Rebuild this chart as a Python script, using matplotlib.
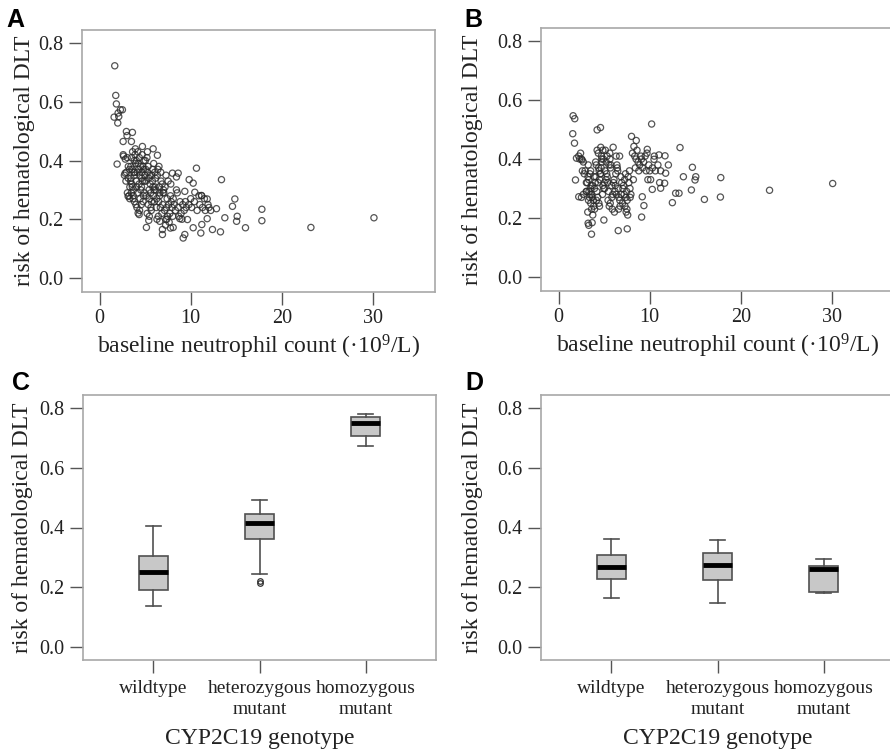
import numpy as np
import matplotlib
matplotlib.use("Agg")
import matplotlib.pyplot as plt

plt.rcParams['font.family'] = ['Liberation Serif', 'DejaVu Serif']
plt.rcParams['mathtext.default'] = 'regular'

# panel A: neutrophil count vs risk (genotype model)
x_a = [1.65, 1.76, 1.83, 1.58, 2.02, 2.27, 2.49, 1.98, 2.09, 1.91, 2.93, 3.59, 3.0, 2.57, 3.48,
       5.87, 6.34, 4.69, 10.63, 13.38, 9.83, 10.27, 7.99, 8.62, 8.43, 9.35, 10.45, 11.18, 11.81,
       14.85, 14.59, 15.11, 15.04, 17.82, 17.82, 13.75, 12.83, 12.39, 13.27, 11.22, 11.11, 10.27,
       11.81, 16.02, 23.21, 30.14, 9.17, 9.35, 6.89, 6.89, 7.77, 8.07, 5.13, 5.39, 6.6, 7.26, 9.64,
       8.8, 4.22, 4.33, 3.12, 3.3, 2.79,
       2.62, 2.81, 3.02, 2.71, 2.93, 3.12, 3.04, 3.21, 2.88, 3.14, 3.27, 2.58,
       3.42, 3.61, 3.83, 3.51, 3.72, 3.93, 3.38, 3.66, 3.79, 3.47, 3.74, 3.88, 3.44, 3.58, 3.81,
       3.53, 3.69, 3.98, 3.91, 3.31, 3.56, 3.86, 4.01,
       4.12, 4.35, 4.51, 4.73, 4.18, 4.44, 4.62, 4.85, 4.05, 4.28, 4.57, 4.69, 4.93, 4.22, 4.41,
       4.66, 4.81, 4.09, 4.33, 4.48, 4.76, 4.95, 4.38, 4.59, 4.84, 4.15, 4.91, 4.02, 4.64,
       5.08, 5.31, 5.47, 5.72, 5.19, 5.42, 5.63, 5.81, 5.12, 5.27, 5.55, 5.69, 5.93, 5.21, 5.38,
       5.61, 5.84, 5.05, 5.33, 5.52, 5.01, 5.66, 5.88, 5.24, 5.79, 5.45, 5.97,
       6.07, 6.33, 6.48, 6.74, 6.21, 6.39, 6.61, 6.83, 6.12, 6.27, 6.53, 6.71, 6.92, 6.18, 6.44,
       6.58, 6.86, 6.02, 6.51, 6.95, 6.29, 6.66, 6.04,
       7.05, 7.33, 7.52, 7.71, 7.18, 7.41, 7.63, 7.85, 7.12, 7.28, 7.47, 7.77, 7.93, 7.24, 7.58,
       7.01, 7.81, 7.37,
       8.08, 8.31, 8.52, 8.69, 8.17, 8.43, 8.61, 8.83, 8.94, 9.12, 9.28, 9.51, 8.02, 9.04, 9.41,
       9.8, 10.1, 10.4, 10.7, 11.0, 11.3, 11.6, 11.9, 12.2, 10.0, 10.9, 11.5, 12.0, 11.2]
y_a = [0.723, 0.622, 0.593, 0.548, 0.562, 0.573, 0.573, 0.528, 0.55, 0.388, 0.499, 0.496, 0.485,
       0.465, 0.465, 0.44, 0.418, 0.448, 0.374, 0.335, 0.335, 0.323, 0.357, 0.357, 0.344, 0.295,
       0.292, 0.281, 0.269, 0.269, 0.244, 0.21, 0.193, 0.234, 0.195, 0.205, 0.236, 0.165, 0.157,
       0.182, 0.153, 0.171, 0.202, 0.171, 0.172, 0.205, 0.136, 0.148, 0.148, 0.165, 0.17, 0.172,
       0.172, 0.196, 0.193, 0.199, 0.199, 0.202, 0.221, 0.216, 0.278, 0.27, 0.357,
       0.415, 0.405, 0.41, 0.35, 0.36, 0.34, 0.29, 0.28, 0.33, 0.38, 0.37, 0.42,
       0.38, 0.43, 0.35, 0.41, 0.30, 0.39, 0.33, 0.27, 0.40, 0.29, 0.36, 0.42, 0.34, 0.31, 0.26,
       0.32, 0.28, 0.25, 0.44, 0.31, 0.37, 0.36, 0.33,
       0.36, 0.41, 0.30, 0.38, 0.43, 0.27, 0.34, 0.40, 0.31, 0.37, 0.25, 0.33, 0.29, 0.39, 0.35,
       0.42, 0.28, 0.24, 0.32, 0.38, 0.26, 0.35, 0.23, 0.31, 0.37, 0.29, 0.33, 0.40, 0.36,
       0.33, 0.38, 0.27, 0.35, 0.41, 0.30, 0.24, 0.37, 0.28, 0.36, 0.32, 0.26, 0.39, 0.22, 0.34,
       0.29, 0.31, 0.37, 0.25, 0.35, 0.40, 0.23, 0.28, 0.43, 0.33, 0.21, 0.30,
       0.31, 0.35, 0.26, 0.33, 0.24, 0.37, 0.29, 0.22, 0.34, 0.27, 0.31, 0.36, 0.25, 0.30, 0.21,
       0.28, 0.32, 0.26, 0.38, 0.29, 0.20, 0.24, 0.36,
       0.29, 0.24, 0.33, 0.22, 0.31, 0.27, 0.19, 0.26, 0.23, 0.35, 0.21, 0.28, 0.24, 0.18, 0.25,
       0.30, 0.32, 0.20,
       0.27, 0.23, 0.29, 0.21, 0.25, 0.30, 0.24, 0.26, 0.22, 0.25, 0.23, 0.24, 0.21, 0.20, 0.26,
       0.25, 0.24, 0.26, 0.23, 0.25, 0.24, 0.23, 0.25, 0.23, 0.27, 0.28, 0.27, 0.24, 0.28]

# panel B: neutrophil count vs risk (full model)
x_b = [1.58, 1.76, 1.54, 1.73, 1.84, 2.2, 4.22, 4.59, 10.21, 13.33, 9.73, 8.0, 8.52, 8.26,
       14.69, 13.7, 15.06, 14.98, 17.81, 17.77, 16.01, 14.58, 12.85, 13.22, 12.49, 23.17, 30.11,
       9.18, 9.36, 9.11, 10.28, 11.2, 11.64, 11.09, 11.75, 12.05, 11.68, 11.02, 10.47, 6.54, 7.53,
       3.6, 3.67, 3.23, 3.3, 4.96, 2.57, 1.95, 2.2,
       2.3, 2.5, 2.7, 2.4, 2.6, 2.8, 2.5, 2.7, 2.9,
       3.08, 3.31, 3.52, 3.71, 3.19, 3.43, 3.62, 3.84, 3.13, 3.27, 3.48, 3.74, 3.22, 3.38, 3.61,
       3.92, 3.02, 3.81, 3.45, 3.57, 3.94, 3.24, 3.51, 3.04, 3.68, 3.33, 3.88,
       4.12, 4.35, 4.51, 4.73, 4.18, 4.44, 4.62, 4.85, 4.05, 4.28, 4.57, 4.69, 4.93, 4.22, 4.41,
       4.66, 4.81, 4.09, 4.33, 4.48, 4.76, 4.15, 4.91, 4.59, 4.02, 4.84, 4.38,
       5.08, 5.31, 5.47, 5.72, 5.19, 5.42, 5.63, 5.81, 5.12, 5.27, 5.55, 5.69, 5.93, 5.21, 5.38,
       5.61, 5.84, 5.05, 5.33, 5.52, 5.88, 5.98, 5.01, 5.66,
       6.07, 6.33, 6.48, 6.74, 6.21, 6.39, 6.61, 6.83, 6.12, 6.27, 6.53, 6.71, 6.92, 6.18, 6.44,
       6.58, 6.86, 6.31, 6.69, 6.02,
       7.05, 7.33, 7.52, 7.71, 7.18, 7.41, 7.63, 7.85, 7.12, 7.28, 7.47, 7.77, 7.24, 7.38, 7.58,
       7.83, 7.01, 7.93, 7.49,
       8.1, 8.35, 8.5, 8.72, 8.9, 9.1, 9.33, 9.5, 8.42, 8.8, 9.22, 9.6, 9.9, 8.6, 9.04, 10.0, 10.3,
       10.62, 10.9, 11.2, 9.7, 10.5, 8.2, 9.8, 10.1]
y_b = [0.547, 0.537, 0.486, 0.454, 0.329, 0.272, 0.499, 0.507, 0.519, 0.439, 0.433, 0.477, 0.463,
       0.443, 0.372, 0.34, 0.34, 0.329, 0.337, 0.271, 0.263, 0.295, 0.284, 0.284, 0.252, 0.294,
       0.317, 0.272, 0.242, 0.203, 0.297, 0.301, 0.318, 0.32, 0.352, 0.38, 0.411, 0.414, 0.399,
       0.157, 0.163, 0.145, 0.184, 0.182, 0.175, 0.193, 0.397, 0.403, 0.41,
       0.40, 0.40, 0.39, 0.42, 0.36, 0.35, 0.27, 0.28, 0.36,
       0.29, 0.33, 0.25, 0.31, 0.22, 0.35, 0.28, 0.24, 0.32, 0.26, 0.30, 0.21, 0.34, 0.27, 0.23,
       0.30, 0.29, 0.26, 0.28, 0.31, 0.23, 0.38, 0.36, 0.32, 0.27, 0.29, 0.34,
       0.38, 0.42, 0.33, 0.40, 0.29, 0.36, 0.44, 0.31, 0.39, 0.27, 0.35, 0.41, 0.30, 0.43, 0.25,
       0.37, 0.28, 0.34, 0.32, 0.24, 0.39, 0.26, 0.40, 0.35, 0.32, 0.43, 0.37,
       0.36, 0.41, 0.29, 0.38, 0.33, 0.26, 0.40, 0.31, 0.43, 0.35, 0.24, 0.37, 0.28, 0.39, 0.32,
       0.42, 0.27, 0.30, 0.34, 0.38, 0.23, 0.44, 0.32, 0.25,
       0.33, 0.28, 0.36, 0.24, 0.31, 0.38, 0.27, 0.34, 0.22, 0.35, 0.30, 0.26, 0.32, 0.29, 0.37,
       0.23, 0.28, 0.41, 0.41, 0.32,
       0.30, 0.35, 0.26, 0.32, 0.28, 0.22, 0.34, 0.27, 0.31, 0.24, 0.29, 0.36, 0.33, 0.27, 0.21,
       0.30, 0.25, 0.28, 0.23,
       0.42, 0.41, 0.40, 0.39, 0.38, 0.40, 0.39, 0.41, 0.37, 0.36, 0.37, 0.36, 0.38, 0.43, 0.41,
       0.36, 0.37, 0.36, 0.38, 0.36, 0.42, 0.41, 0.33, 0.33, 0.33]

# panels C and D: boxplot summaries per genotype
genotypes = ['wildtype', 'heterozygous\nmutant', 'homozygous\nmutant']
c_low = [0.137, 0.243, 0.675]
c_q1 = [0.190, 0.361, 0.708]
c_med = [0.250, 0.416, 0.752]
c_q3 = [0.304, 0.445, 0.772]
c_high = [0.406, 0.492, 0.780]
c_fliers = [[], [0.212, 0.221], []]

d_low = [0.164, 0.148, 0.179]
d_q1 = [0.227, 0.223, 0.185]
d_med = [0.2685, 0.274, 0.261]
d_q3 = [0.308, 0.313, 0.270]
d_high = [0.361, 0.357, 0.295]
d_fliers = [[], [], []]

W, H = 890, 755
fig = plt.figure(figsize=(8.9, 7.55), dpi=100)

def px_axes(left, top, right, bottom):
    return fig.add_axes([left / W, 1 - bottom / H, (right - left) / W, (bottom - top) / H])

frame_col = '#a8a8a8'
tick_col = '#555555'
txt_col = '#222222'

def style(ax):
    for s in ax.spines.values():
        s.set_color(frame_col)
        s.set_linewidth(1.2)
    ax.tick_params(direction='out', length=9.5, width=1.0, color=tick_col,
                   labelsize=14.5, labelcolor=txt_col)
    ax.tick_params(axis='y', pad=4)
    ax.tick_params(axis='x', pad=3)
    ax.set_yticks([0.0, 0.2, 0.4, 0.6, 0.8])
    ax.set_yticklabels(['0.0', '0.2', '0.4', '0.6', '0.8'])
    ax.set_ylabel('risk of hematological DLT', fontsize=17, color=txt_col)

ax_a = px_axes(82, 30, 435, 292)
ax_b = px_axes(541, 28, 894, 291)
ax_c = px_axes(83, 395, 436, 660)
ax_d = px_axes(541, 395, 894, 660)

for ax, xs, ys in [(ax_a, x_a, y_a), (ax_b, x_b, y_b)]:
    ax.scatter(xs, ys, s=20, facecolors='none', edgecolors='#2a2a2a', linewidths=0.9, alpha=0.8)
    ax.set_xlim(-1.95, 36.85)
    ax.set_ylim(-0.048, 0.845)
    style(ax)
    ax.set_xticks([0, 10, 20, 30])
    ax.set_xlabel(r'baseline neutrophil count (·$10^9$/L)', fontsize=17, color=txt_col, labelpad=3)

for ax, lo, q1, med, q3, hi, fl in [(ax_c, c_low, c_q1, c_med, c_q3, c_high, c_fliers),
                                    (ax_d, d_low, d_q1, d_med, d_q3, d_high, d_fliers)]:
    stats = []
    for i in range(3):
        stats.append({'whislo': lo[i], 'q1': q1[i], 'med': med[i], 'q3': q3[i],
                      'whishi': hi[i], 'fliers': fl[i]})
    ax.bxp(stats, positions=[1, 2, 3], widths=0.27, capwidths=0.14, patch_artist=True,
           boxprops=dict(facecolor='#c8c8c8', edgecolor='#505050', linewidth=1.2),
           medianprops=dict(color='black', linewidth=3.5, solid_capstyle='butt'),
           whiskerprops=dict(color='#505050', linewidth=1.2),
           capprops=dict(color='#505050', linewidth=1.2),
           flierprops=dict(marker='o', markersize=4, markerfacecolor='none',
                           markeredgecolor='#333333', markeredgewidth=0.9))
    ax.set_xlim(0.34, 3.66)
    ax.set_ylim(-0.045, 0.845)
    style(ax)
    ax.set_xticks([1, 2, 3])
    ax.set_xticklabels(genotypes, fontsize=14, linespacing=1.3)
    ax.tick_params(axis='x', pad=5)
    ax.set_xlabel('CYP2C19 genotype', fontsize=17, color=txt_col, labelpad=7)

ax_a.yaxis.set_label_coords(-0.133, 0.5)
ax_b.yaxis.set_label_coords(-0.164, 0.5)
ax_c.yaxis.set_label_coords(-0.142, 0.5)
ax_d.yaxis.set_label_coords(-0.164, 0.5)

for lab, px, py in [('A', 6, 8), ('B', 464, 8), ('C', 12, 371), ('D', 465, 371)]:
    fig.text(px / W, 1 - py / H, lab, family=['Liberation Sans', 'DejaVu Sans'],
             fontweight='bold', fontsize=18, ha='left', va='top')

fig.savefig('out.png', dpi=100)
